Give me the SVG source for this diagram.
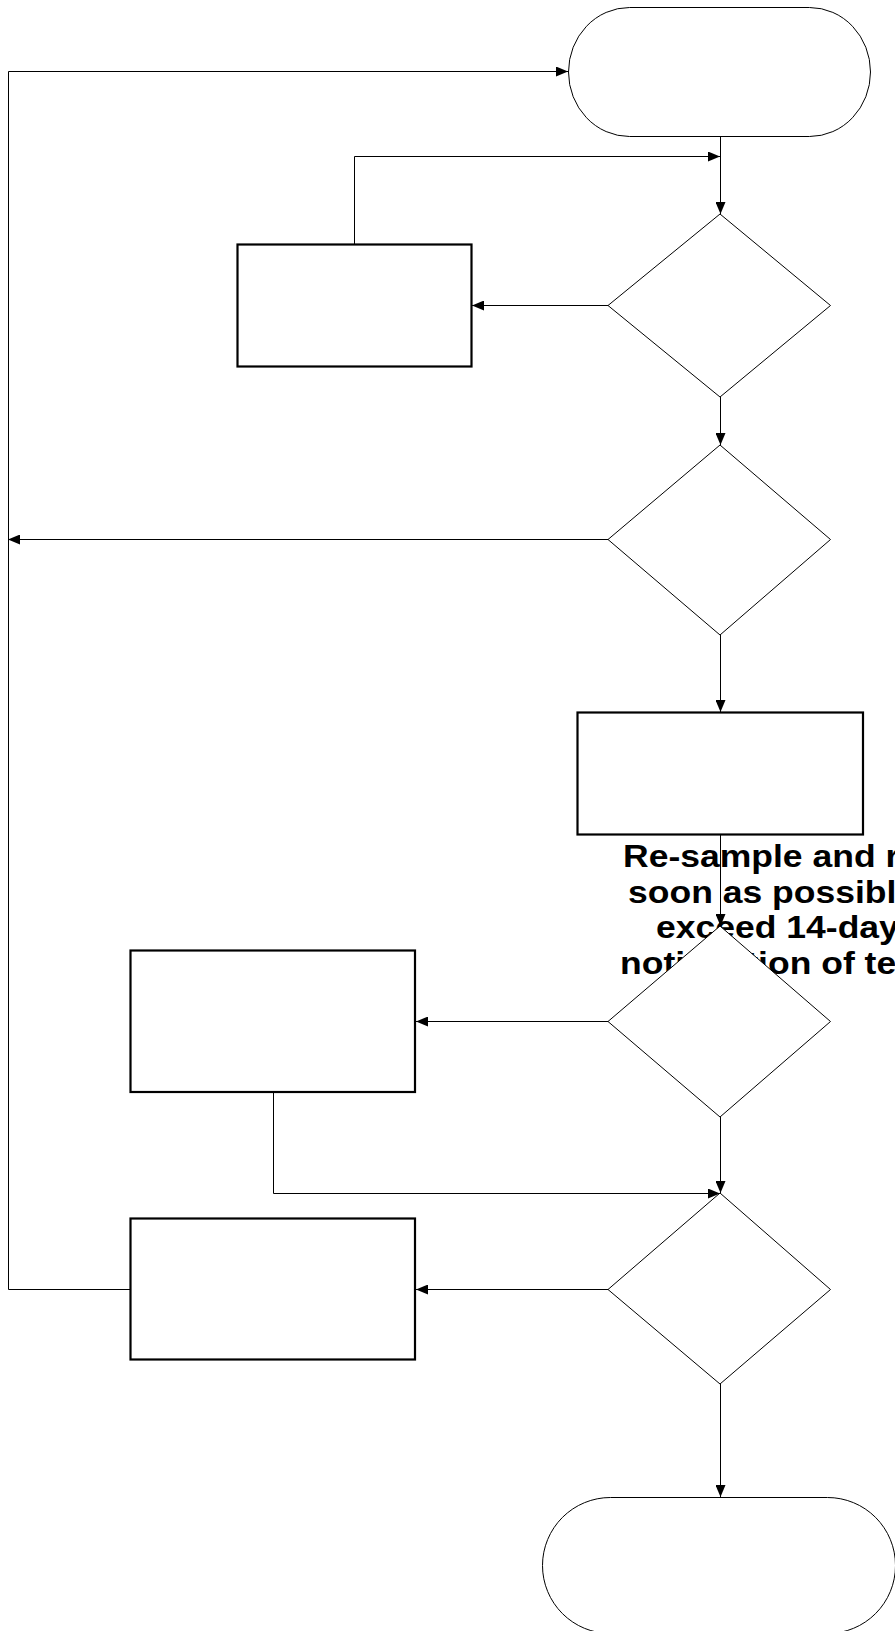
<svg xmlns="http://www.w3.org/2000/svg" width="895" height="1631" viewBox="0 0 895 1631">
<style>
.term{fill:#fff;stroke:#000;stroke-width:1}
.box{fill:#fff;stroke:#000;stroke-width:2.2}
.dia{fill:#fff;stroke:#000;stroke-width:1}
.con{fill:none;stroke:#000;stroke-width:1}
.lbl{font-family:"Liberation Sans",Arial,sans-serif;font-weight:bold;font-size:32px;fill:#000}
</style>
<defs>
<marker id="ah" markerWidth="12" markerHeight="10" refX="12" refY="5" orient="auto" markerUnits="userSpaceOnUse">
<path d="M0,0 L12,5 L0,10 Z" fill="#000"/>
</marker>
</defs>
<g id="label">
<text class="lbl" transform="translate(623,867) scale(1.11,1)">Re-sample and r</text>
<text class="lbl" transform="translate(628,902.5) scale(1.11,1)">soon as possibl</text>
<text class="lbl" transform="translate(656,938) scale(1.11,1)">exceed 14-day</text>
<text class="lbl" transform="translate(620,973.5) scale(1.11,1)">notification of te</text>
</g>
<g id="start"><rect class="term" x="568.5" y="7.5" width="302" height="129" rx="61" ry="64.5"/></g>
<g id="box1"><rect class="box" x="237.5" y="244.5" width="234" height="122"/></g>
<g id="dec1"><polygon class="dia" points="720,214 830.5,305.5 720,397 608,305.5"/></g>
<g id="dec2"><polygon class="dia" points="720,445 830.5,539.5 720,635 608,539.5"/></g>
<g id="box2"><rect class="box" x="577.5" y="712.5" width="285.5" height="122"/></g>
<g id="dec3"><polygon class="dia" points="720,926 830.5,1021.5 720,1117 608,1021.5"/></g>
<g id="box3"><rect class="box" x="130.5" y="950.5" width="284.5" height="141.5"/></g>
<g id="dec4"><polygon class="dia" points="720,1193 830.5,1289.5 720,1384 608,1289.5"/></g>
<g id="box4"><rect class="box" x="130.5" y="1218.5" width="284.5" height="141"/></g>
<g id="end"><rect class="term" x="542.5" y="1497.5" width="353" height="136" rx="68" ry="68"/></g>
<g id="connectors">
<path class="con" d="M720.5,136.5 V214" marker-end="url(#ah)"/>
<path class="con" d="M354.5,244.5 V156.5 H720" marker-end="url(#ah)"/>
<path class="con" d="M608,305.5 H472" marker-end="url(#ah)"/>
<path class="con" d="M720.5,397 V445" marker-end="url(#ah)"/>
<path class="con" d="M608,539.5 H8" marker-end="url(#ah)"/>
<path class="con" d="M720.5,635 V712" marker-end="url(#ah)"/>
<path class="con" d="M720.5,835 V926" marker-end="url(#ah)"/>
<path class="con" d="M608,1021.5 H416" marker-end="url(#ah)"/>
<path class="con" d="M273.5,1092 V1193.5 H720" marker-end="url(#ah)"/>
<path class="con" d="M720.5,1117 V1193" marker-end="url(#ah)"/>
<path class="con" d="M608,1289.5 H416" marker-end="url(#ah)"/>
<path class="con" d="M130,1289.5 H8.5 V71.5 H568" marker-end="url(#ah)"/>
<path class="con" d="M720.5,1384 V1497" marker-end="url(#ah)"/>
</g>
</svg>
